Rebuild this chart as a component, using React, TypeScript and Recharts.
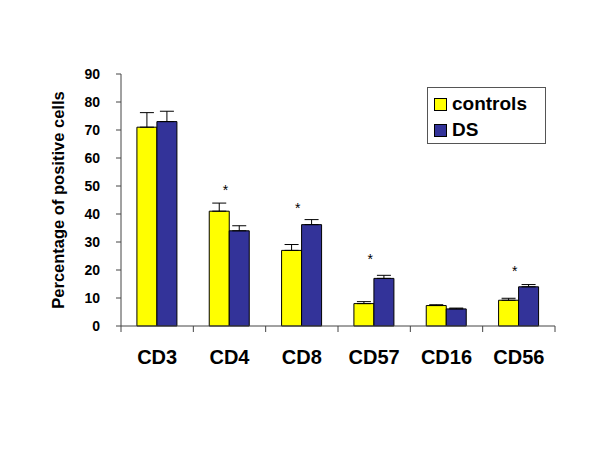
import React from "react";
import {
  BarChart,
  Bar,
  XAxis,
  YAxis,
  ErrorBar,
  ReferenceDot,
  Label,
} from "recharts";

// values
const categories = ["CD3", "CD4", "CD8", "CD57", "CD16", "CD56"];
const controls = [71, 41, 27, 8, 7.3, 9.2];
const controlsErr = [5.2, 2.9, 2.1, 0.7, 0.3, 0.7];
const ds = [73, 34, 36.2, 17, 6.1, 14];
const dsErr = [3.7, 1.8, 1.8, 1.1, 0.3, 0.8];
const yTicks = [0, 10, 20, 30, 40, 50, 60, 70, 80, 90];

// significance markers (category, height)
const starCats = ["CD4", "CD8", "CD57", "CD56"];
const starLevels = [50, 43.5, 25.5, 21];

const seriesNames = ["controls", "DS"];
const seriesColors = ["#FFFF00", "#333399"];

const data = categories.map((name, i) => ({
  name,
  controls: controls[i],
  controlsErr: [0, controlsErr[i]],
  ds: ds[i],
  dsErr: [0, dsErr[i]],
}));

const FONT = "Arial, 'Liberation Sans', sans-serif";

const CategoryTick = (props: any) => {
  const { x, y, payload, index } = props;
  const half = payload && payload.offset ? payload.offset : 36;
  return (
    <g>
      <line x1={x - half} y1={y} x2={x - half} y2={y + 6} stroke="#444" />
      {index === categories.length - 1 && (
        <line x1={x + half} y1={y} x2={x + half} y2={y + 6} stroke="#444" />
      )}
      <text
        x={x}
        y={y + 38}
        textAnchor="middle"
        fontFamily={FONT}
        fontWeight="bold"
        fontSize={20}
        fill="#000"
      >
        {payload.value}
      </text>
    </g>
  );
};

const LegendBox = () => (
  <div
    style={{
      position: "absolute",
      left: 427,
      top: 87,
      width: 117,
      height: 55,
      border: "1px solid #555",
      background: "#fff",
      fontFamily: FONT,
      fontWeight: "bold",
      fontSize: 19,
      lineHeight: "22px",
    }}
  >
    {seriesNames.map((label, i) => (
      <div
        key={label}
        style={{
          display: "flex",
          alignItems: "center",
          height: 22,
          marginTop: i === 0 ? 5 : 4,
          marginLeft: 6,
        }}
      >
        <span
          style={{
            display: "inline-block",
            width: 11,
            height: 11,
            background: seriesColors[i],
            border: "1px solid #000",
            marginRight: 5,
          }}
        />
        <span>{label}</span>
      </div>
    ))}
  </div>
);

const App = () => {
  return (
    <div
      style={{
        position: "absolute",
        left: 0,
        top: 0,
        width: 600,
        height: 450,
        background: "#fff",
      }}
    >
      <BarChart
        width={600}
        height={450}
        data={data}
        margin={{ top: 74, right: 45, bottom: 84, left: 20 }}
        barGap={0}
        barCategoryGap="22%"
      >
        <XAxis
          dataKey="name"
          interval={0}
          tickLine={false}
          tickSize={0}
          tickMargin={0}
          height={40}
          stroke="#444"
          tick={<CategoryTick />}
        />
        <YAxis
          domain={[0, 90]}
          ticks={yTicks}
          width={101}
          stroke="#444"
          tickSize={5}
          tickMargin={16}
          tick={{ fill: "#000", fontFamily: FONT, fontWeight: "bold", fontSize: 14 }}
        >
          <Label
            value="Percentage of positive cells"
            angle={-90}
            position="center"
            dx={-12}
            style={{ fontFamily: FONT, fontWeight: "bold", fontSize: 16.5, fill: "#000" }}
          />
        </YAxis>
        <Bar
          dataKey="controls"
          fill={seriesColors[0]}
          stroke="#000"
          strokeWidth={1}
          isAnimationActive={false}
        >
          <ErrorBar dataKey="controlsErr" width={7} stroke="#000" strokeWidth={1} />
        </Bar>
        <Bar
          dataKey="ds"
          fill={seriesColors[1]}
          stroke="#000"
          strokeWidth={1}
          isAnimationActive={false}
        >
          <ErrorBar dataKey="dsErr" width={7} stroke="#000" strokeWidth={1} />
        </Bar>
        {starCats.map((c, i) => (
          <ReferenceDot
            key={c}
            x={c}
            y={starLevels[i]}
            r={0}
            stroke="none"
            fill="none"
            label={{
              value: "*",
              position: "center",
              dx: -4,
              dy: 4,
              style: { fontFamily: FONT, fontSize: 14, fill: "#000" },
            }}
          />
        ))}
      </BarChart>
      <LegendBox />
    </div>
  );
};

export default App;
